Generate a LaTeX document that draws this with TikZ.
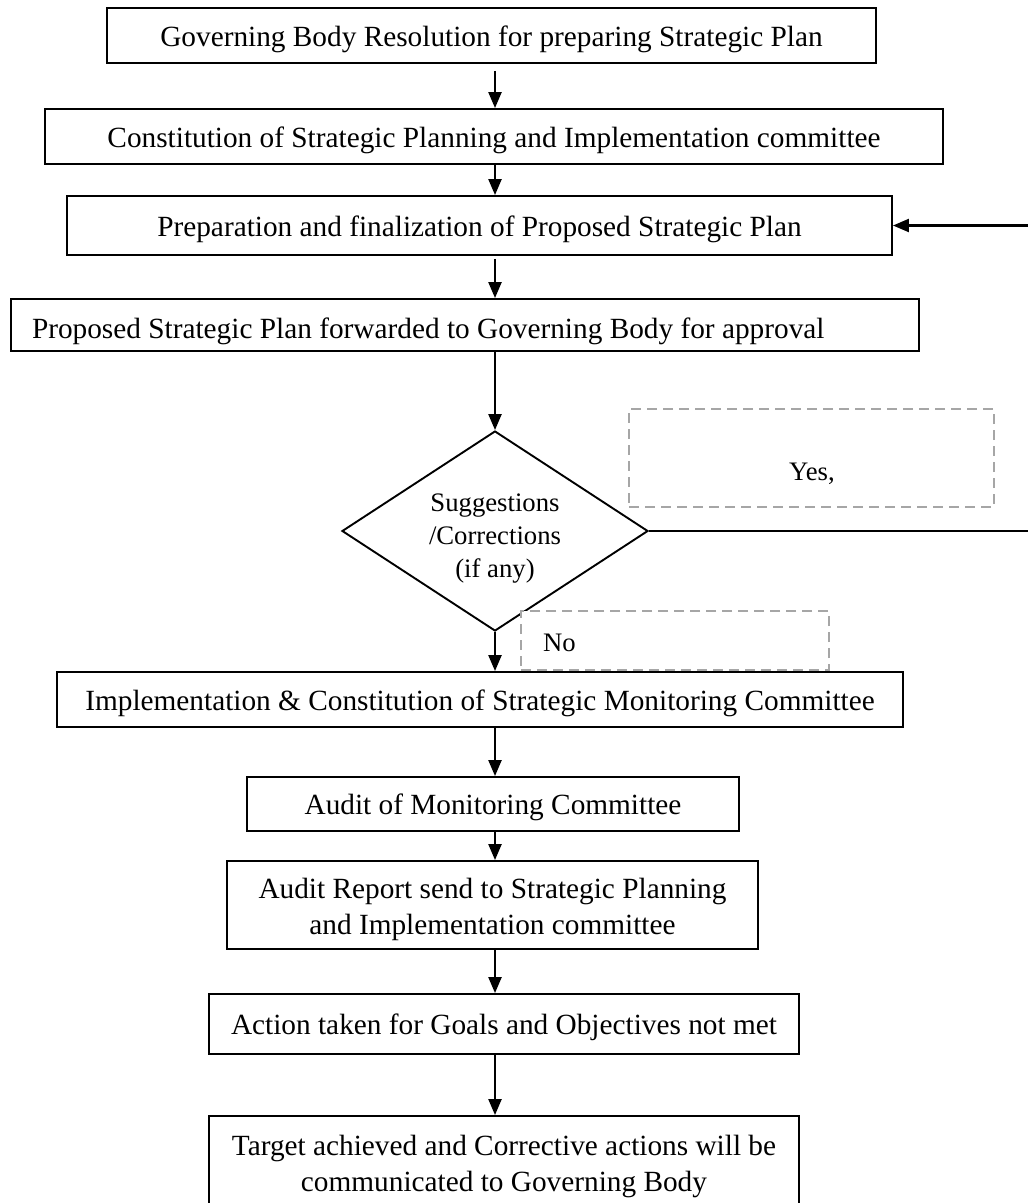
\documentclass[tikz,border=0pt]{standalone}
\usepackage{fontspec}
\setmainfont{Liberation Serif}
\usetikzlibrary{shapes.geometric,arrows.meta}
\begin{document}
\begin{tikzpicture}[x=1pt,y=-1pt,
  box/.style={draw,line width=1.9pt,font=\fontsize{29.3}{36}\selectfont,inner sep=0pt,align=center},
  one/.style={text height=25pt,text depth=3.4pt},
  arr/.style={-{Triangle[length=16pt,width=13pt]},line width=2.3pt},
  dbox/.style={draw=black!35,line width=1.8pt,dash pattern=on 10pt off 6pt,inner sep=0pt},
  lbl/.style={inner sep=0pt,font=\fontsize{26.7}{33}\selectfont}]
\useasboundingbox (0,0) rectangle (1028,1203);
\node[box,one,minimum width=769pt,minimum height=55pt] (b1) at (491.5,35.5) {Governing Body Resolution for preparing Strategic Plan};
\node[box,one,minimum width=898pt,minimum height=55pt] (b2) at (494,136.5) {Constitution of Strategic Planning and Implementation committee};
\node[box,one,minimum width=825pt,minimum height=59pt] (b3) at (479.5,225.5) {Preparation and finalization of Proposed Strategic Plan};
\node[box,minimum width=908pt,minimum height=52pt,inner xsep=21pt,text height=30pt,text depth=2.4pt] (b4) at (465,325) {\makebox[866pt][l]{Proposed Strategic Plan forwarded to Governing Body for approval}};
\node[draw,diamond,line width=1.9pt,minimum width=306pt,minimum height=200pt,inner sep=0pt,aspect=1.53,align=center,font=\fontsize{26.7}{33}\selectfont] (dia) at (495,531) {\rule{0pt}{33pt}Suggestions\\/Corrections\\(if any)};
\node[dbox,minimum width=365pt,minimum height=98pt] (yesbox) at (811.5,458) {};
\node[lbl] (yes) at (812,474) {Yes,};
\node[dbox,fill=white,minimum width=308pt,minimum height=59pt] (nobox) at (675,640.5) {};
\node[lbl,anchor=west] (no) at (543,643) {No};
\node[box,one,minimum width=846pt,minimum height=55pt] (b5) at (480,699.5) {Implementation \& Constitution of Strategic Monitoring Committee};
\node[box,one,minimum width=492pt,minimum height=54pt] (b6) at (493,804) {Audit of Monitoring Committee};
\node[box,minimum width=531pt,minimum height=88pt] (b7) at (492.5,905) {\rule{0pt}{30pt}Audit Report send to Strategic Planning\\and Implementation committee};
\node[box,one,minimum width=590pt,minimum height=60pt] (b8) at (504,1024) {Action taken for Goals and Objectives not met};
\node[box,minimum width=590pt,minimum height=100pt] (b9) at (504,1166) {Target achieved and Corrective actions will be\\communicated to Governing Body};
\coordinate (loop) at (1031,531);
\draw[arr,shorten <=7pt] (b1.south -| dia) -- (b2.north -| dia);
\draw[arr] (b2.south -| dia) -- (b3.north -| dia);
\draw[arr,shorten <=3pt] (b3.south -| dia) -- (b4.north -| dia);
\draw[arr] (b4.south -| dia) -- (dia.north);
\draw[arr] (dia.south) -- (b5.north -| dia);
\draw[arr] (b5.south -| dia) -- (b6.north -| dia);
\draw[arr] (b6.south -| dia) -- (b7.north -| dia);
\draw[arr] (b7.south -| dia) -- (b8.north -| dia);
\draw[arr] (b8.south -| dia) -- (b9.north -| dia);
\draw[arr] (dia.east) -- (loop) |- (b3.east);
\end{tikzpicture}
\end{document}
